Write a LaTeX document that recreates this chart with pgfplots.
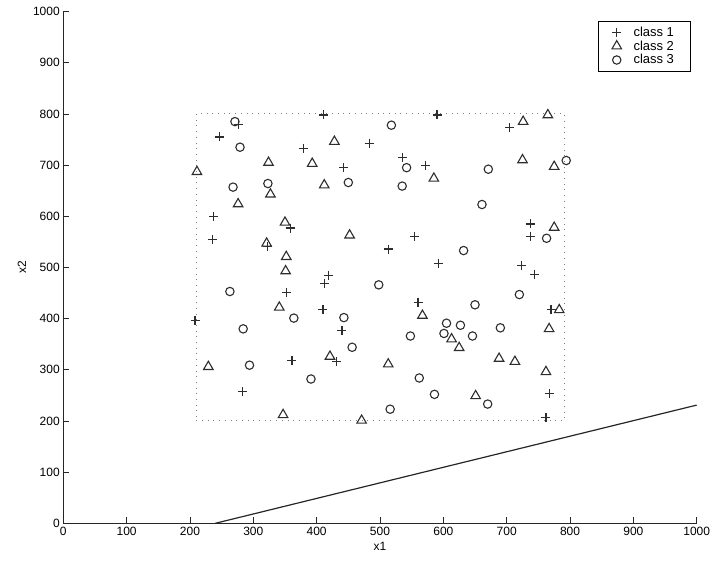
\documentclass[border=0pt]{standalone}
\usepackage{fontspec}
\setmainfont{Liberation Sans}
\usepackage{pgfplots}
\pgfplotsset{compat=1.18}
\definecolor{mk}{RGB}{45,45,45}
\begin{document}
\begin{tikzpicture}
\begin{axis}[
 scale only axis, width=633.4pt, height=511.7pt,
 xmin=0,xmax=1000,ymin=0,ymax=1000,
 axis lines=left, axis line style={-, line width=0.9pt, black!85},
 xtick={0,100,...,1000}, ytick={0,100,...,1000},
 tick align=inside, major tick length=6pt, tick style={line width=0.8pt, black!85},
 /pgf/number format/assume math mode=true,
 /pgf/number format/set thousands separator={},
 ticklabel style={font=\fontsize{12}{14}\selectfont},
 xlabel={x1}, ylabel={x2},
 label style={font=\fontsize{12}{14}\selectfont},
 legend style={at={(axis cs:990,982)}, anchor=north east, draw=black, line width=0.8pt,
   font=\fontsize{13}{15}\selectfont, row sep=0pt, inner xsep=14pt, inner ysep=4pt,
   /tikz/every odd column/.append style={column sep=10pt},
   nodes={inner ysep=1.5pt}},
 legend cell align=left,
 clip=false,
]
\addplot[only marks, mark=+, mark size=4.5pt, mark options={line width=1.1pt, mk}] coordinates {
(277,780) (411,798) (246,755) (379,733) (237,600) (358,577) (236,555) (322,541)
(418,485) (412,469) (353,451) (410,417) (208,397) (361,318) (432,316) (283,258)
(590,798) (483,743) (536,715) (443,695) (572,700) (555,560) (513,536) (705,773)
(737,585) (737,561) (592,507) (560,432) (440,376) (724,503) (744,487) (770,417)
(767,253) (762,206)};
\addlegendentry{class 1}
\addplot[only marks, mark=triangle, mark size=5.5pt, mark options={line width=1.1pt, mk}] coordinates {
(428,746) (324,705) (393,703) (211,687) (327,643) (412,661) (276,624) (350,588)
(321,547) (352,521) (351,493) (341,422) (421,326) (229,306) (347,212) (585,674)
(452,563) (765,798) (726,785) (725,710) (775,697) (775,578) (567,406) (613,360)
(625,343) (513,311) (651,249) (471,201) (783,417) (767,380) (688,322) (713,316)
(762,296)};
\addlegendentry{class 2}
\addplot[only marks, mark=o, mark size=4.2pt, mark options={line width=1.1pt, mk}] coordinates {
(271,785) (279,735) (268,657) (323,664) (263,453) (364,401) (284,380) (294,309)
(391,282) (518,778) (542,695) (671,692) (450,666) (535,659) (661,623) (632,533)
(794,709) (763,557) (498,466) (650,427) (443,402) (605,391) (627,387) (601,371)
(548,366) (646,366) (456,344) (562,284) (586,252) (670,233) (516,223) (720,447)
(690,382)};
\addlegendentry{class 3}
\addplot[forget plot, gray, line width=1pt, dash pattern=on 1pt off 4.7pt] coordinates {
(210,200) (791,200) (791,800) (210,800) (210,200)};
\addplot[forget plot, black!85, line width=1.2pt] coordinates {(240,0) (1000,231)};
\end{axis}
\path ([xshift=-63.3pt,yshift=-41.7pt]current axis.south west) rectangle ([xshift=20.3pt,yshift=11.6pt]current axis.north east);
\end{tikzpicture}
\end{document}
